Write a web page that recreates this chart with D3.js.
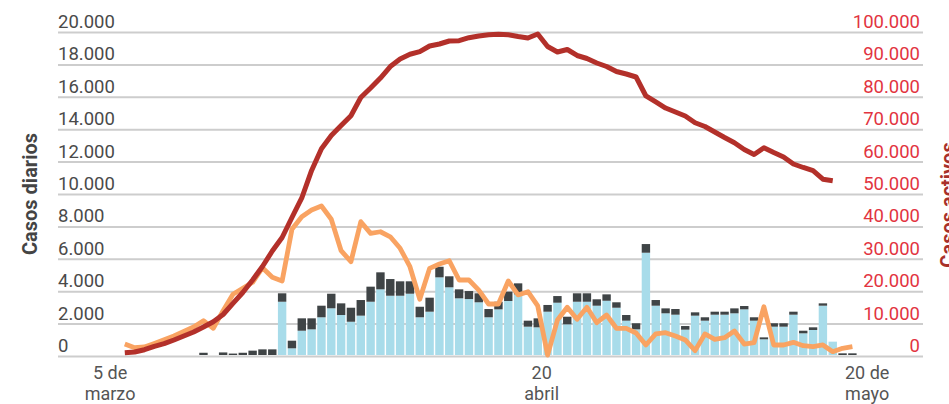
<!DOCTYPE html>
<html>
<head>
<meta charset="utf-8">
<script src="https://cdn.jsdelivr.net/npm/d3@7/dist/d3.min.js"></script>
<style>
  body { margin: 0; background: #fff; }
  .chart text { font-family: Roboto, "Liberation Sans", sans-serif; }
</style>
</head>
<body>
<div class="chart"></div>
<script>
// daily cases, bars start on day 8 of the series
var barStartDay = 8;
var barBlue = [0, 0, 0, 0, 0, 0, 0, 0, 3350, 475, 1560, 1645, 2390, 2945, 2530, 2115, 2490, 3350, 4115, 3720,
  3720, 3845, 2390, 2735, 4855, 4240, 3560, 3515, 3315, 2390, 2880, 3395, 3805, 1810, 1770, 2735, 3290, 1955,
  3350, 3350, 3105, 3410, 2980, 2180, 1645, 6375, 3105, 2635, 2550, 1625, 2490, 2180, 2550, 2550, 2635, 2880,
  2180, 1030, 1810, 1810, 2550, 1400, 1605, 3105, 885, 0, 0];
var barDark = [200, 0, 220, 150, 200, 330, 410, 410, 520, 470, 765, 680, 715, 900, 720, 865, 965, 930, 1050, 1030,
  890, 765, 650, 865, 655, 680, 555, 495, 555, 510, 470, 575, 680, 370, 555, 415, 410, 470,
  520, 520, 395, 395, 335, 350, 375, 535, 350, 305, 350, 225, 205, 210, 185, 185, 305, 205,
  210, 120, 210, 210, 185, 160, 165, 145, 0, 165, 165];

// orange line (left axis), one value per day from day 0
var dailyLine = [740, 510, 555, 770, 1000, 1235, 1510, 1790, 2180, 1710,
  2800, 3810, 4180, 4550, 5450, 4860, 4630, 7820, 8600, 9010,
  9260, 8440, 6500, 5820, 8290, 7570, 7670, 7360, 6650, 5510,
  3500, 5410, 5680, 5880, 4690, 4690, 4070, 3210, 3210, 4630,
  3770, 3970, 3090, 60, 2220, 3010, 2265, 3010, 2055, 2530,
  1710, 1710, 1420, 680, 1360, 1440, 1235, 990, 330, 1360,
  1030, 1130, 1540, 740, 820, 3040, 680, 680, 845, 635,
  575, 680, 265, 475, 575];

// active cases (right axis)
var activeCases = [1020, 1235, 1945, 2990, 3800, 4940, 6170, 7400, 8950, 10590,
  12810, 16270, 19600, 23460, 27620, 32400, 36570, 42750, 48770, 57280,
  63980, 68060, 71140, 74170, 79780, 82710, 85800, 89350, 91670, 93120,
  93920, 95680, 96300, 97220, 97310, 98240, 98770, 99170, 99290, 99170,
  98610, 98150, 99380, 95520, 93830, 94600, 92750, 91820, 90430, 89350,
  87810, 87040, 86110, 80250, 78400, 76540, 75310, 74070, 72000, 70830,
  69140, 67440, 65830, 63730, 62190, 64290, 62810, 61420, 59260, 58180,
  57190, 54570, 54100];

var leftTicks = [0, 2000, 4000, 6000, 8000, 10000, 12000, 14000, 16000, 18000, 20000];
var rightTicks = [0, 10000, 20000, 30000, 40000, 50000, 60000, 70000, 80000, 90000, 100000];
var xTickDays = [-1.5, 42.4, 75.5];
var xTickLines = [["5 de", "marzo"], ["20", "abril"], ["20 de", "mayo"]];

var svgWidth = 949;
var svgHeight = 404;
var margin = { top: 32, right: 26, bottom: 48, left: 58 };
var width = svgWidth - margin.left - margin.right;
var height = svgHeight - margin.top - margin.bottom;

var es = d3.formatLocale({ decimal: ",", thousands: ".", grouping: [3], currency: ["", " €"] });
var fmt = es.format(",d");

var svg = d3.select(".chart")
  .append("svg")
  .attr("width", svgWidth)
  .attr("height", svgHeight);

var chart = svg.append("g")
  .attr("transform", "translate(" + margin.left + "," + margin.top + ")");

var x = d3.scaleLinear().domain([0, dailyLine.length - 1]).range([66.8, width - 70.6]);
var yLeft = d3.scaleLinear().domain([0, 20000]).range([height, 0]);
var yRight = d3.scaleLinear().domain([0, 100000]).range([height, 0]);

// grid + left labels
var leftAxis = d3.axisLeft(yLeft).tickValues(leftTicks).tickSize(-width).tickFormat(fmt);
var gl = chart.append("g").call(leftAxis);
gl.select(".domain").remove();
gl.selectAll(".tick line").attr("stroke", "#cdcdcd").attr("stroke-width", 2);
gl.selectAll(".tick text")
  .attr("x", 0).attr("dy", -4.5)
  .attr("text-anchor", "start")
  .attr("font-size", 18.5).attr("fill", "#4a4a4a");

var rightAxis = d3.axisRight(yRight).tickValues(rightTicks).tickSize(0).tickFormat(fmt);
var gr = chart.append("g").attr("transform", "translate(" + width + ",0)").call(rightAxis);
gr.select(".domain").remove();
gr.selectAll(".tick text")
  .attr("x", -3).attr("dy", -4.5)
  .attr("text-anchor", "end")
  .attr("font-size", 18.5).attr("fill", "#e2343f");

// stacked bars
var barRows = barBlue.map(function(v, i) {
  return { day: i + barStartDay, blue: v, dark: barDark[i] };
});
var stack = d3.stack().keys(["blue", "dark"]);
var series = stack(barRows);
var barColors = { blue: "#a8dcea", dark: "#3f4446" };
var barW = 8.4;

chart.selectAll(".layer")
  .data(series)
  .enter()
  .append("g")
  .attr("fill", function(s) { return barColors[s.key]; })
  .selectAll("rect")
  .data(function(s) { return s; })
  .enter()
  .append("rect")
  .attr("x", function(d) { return x(d.data.day) - barW / 2; })
  .attr("width", barW)
  .attr("y", function(d) { return yLeft(d[1]); })
  .attr("height", function(d) { return Math.max(0, yLeft(d[0]) - yLeft(d[1]) - (d[0] === 0 ? 1 : 0)); });

// lines
var lineLeft = d3.line()
  .x(function(d, i) { return x(i); })
  .y(function(d) { return yLeft(d); });
var lineRight = d3.line()
  .x(function(d, i) { return x(i); })
  .y(function(d) { return yRight(d); });

chart.append("path")
  .datum(dailyLine)
  .attr("d", lineLeft)
  .attr("fill", "none")
  .attr("stroke", "#f9a362")
  .attr("stroke-width", 4.8)
  .attr("stroke-linejoin", "round");

chart.append("path")
  .datum(activeCases)
  .attr("d", lineRight)
  .attr("fill", "none")
  .attr("stroke", "#b3302a")
  .attr("stroke-width", 5)
  .attr("stroke-linejoin", "round");

// x labels, two lines each
var xl = chart.selectAll(".xlab")
  .data(xTickDays)
  .enter()
  .append("text")
  .attr("class", "xlab")
  .attr("text-anchor", "middle")
  .attr("font-size", 18)
  .attr("fill", "#555");
xl.each(function(d, i) {
  var t = d3.select(this);
  xTickLines[i].forEach(function(line, j) {
    t.append("tspan").attr("x", x(d)).attr("y", height + 23 + j * 21).text(line);
  });
});

// axis titles
svg.append("text")
  .attr("transform", "translate(37," + 194 + ") rotate(-90)")
  .attr("text-anchor", "middle")
  .attr("font-size", 20)
  .attr("font-weight", "bold")
  .attr("fill", "#444")
  .text("Casos diarios");

// right title sits partly past the edge, as in the original
svg.append("text")
  .attr("transform", "translate(955," + 205 + ") rotate(-90)")
  .attr("text-anchor", "middle")
  .attr("font-size", 20)
  .attr("font-weight", "bold")
  .attr("fill", "#a8302a")
  .text("Casos activos");
</script>
</body>
</html>
